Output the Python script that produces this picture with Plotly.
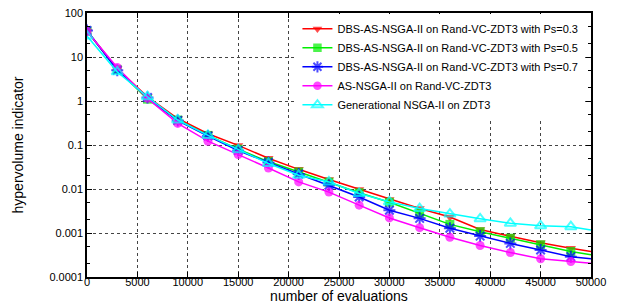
import plotly.graph_objects as go

evals = [0, 3000, 6000, 9000, 12000, 15000, 18000, 21000, 24000, 27000,
         30000, 33000, 36000, 39000, 42000, 45000, 48000, 50000]

hv_ps03 = [39, 5.4, 1.25, 0.40, 0.18, 0.098, 0.050, 0.028, 0.0164, 0.0098,
           0.0058, 0.0036, 0.0023, 0.0012, 0.00084, 0.0006, 0.00045, 0.00038]
hv_ps05 = [39, 5.2, 1.1, 0.37, 0.165, 0.08, 0.042, 0.0244, 0.0143, 0.0082,
           0.005, 0.0028, 0.00157, 0.00107, 0.00076, 0.00054, 0.00038, 0.00032]
hv_ps07 = [40, 5.0, 1.2, 0.36, 0.16, 0.075, 0.040, 0.022, 0.0122, 0.0066,
           0.0033, 0.00215, 0.00128, 0.00085, 0.00058, 0.00041, 0.00029, 0.00026]
hv_as = [38, 5.8, 1.15, 0.31, 0.122, 0.061, 0.030, 0.0145, 0.0085, 0.0043,
         0.0022, 0.00132, 0.0008, 0.00052, 0.00036, 0.00026, 0.000224, 0.000206]
hv_gen = [30, 4.6, 1.25, 0.37, 0.165, 0.078, 0.038, 0.0205, 0.0145, 0.0079,
          0.0051, 0.0036, 0.0027, 0.0021, 0.00166, 0.00146, 0.00139, 0.00117]

names = [
    "DBS-AS-NSGA-II on Rand-VC-ZDT3 with Ps=0.3",
    "DBS-AS-NSGA-II on Rand-VC-ZDT3 with Ps=0.5",
    "DBS-AS-NSGA-II on Rand-VC-ZDT3 with Ps=0.7",
    "AS-NSGA-II on Rand-VC-ZDT3",
    "Generational NSGA-II on ZDT3",
]
series = [hv_ps03, hv_ps05, hv_ps07, hv_as, hv_gen]
colors = ["#ff0000", "#00ee00", "#0000ff", "#ff00ff", "#00ffff"]
symbols = ["triangle-down", "square", "asterisk-open", "circle", "triangle-up-open"]
sizes = [9, 9, 10, 9, 10]

y_tickvals = [100, 10, 1, 0.1, 0.01, 0.001, 0.0001]
y_ticktext = ["100", "10", "1", "0.1", "0.01", "0.001", "0.0001"]
x_tickvals = [0, 5000, 10000, 15000, 20000, 25000, 30000, 35000, 40000, 45000, 50000]
x_ticktext = [str(v) for v in x_tickvals]

fig = go.Figure()
for name, ys, c, sym, sz in zip(names, series, colors, symbols, sizes):
    msizes = [sz] * (len(evals) - 1) + [0]
    fig.add_trace(go.Scatter(
        x=evals, y=ys, name=name, mode="lines+markers",
        line=dict(color=c, width=1.5),
        marker=dict(color=c, symbol=sym, size=msizes,
                    line=dict(color=c, width=2 if "open" in sym else 0)),
    ))

font = "Liberation Sans, Arial, sans-serif"
fig.update_layout(
    width=609, height=296,
    margin=dict(l=79, r=26, t=5, b=27),
    paper_bgcolor="white", plot_bgcolor="white",
    font=dict(family=font, size=11, color="black"),
    showlegend=True,
    legend=dict(x=0.985, y=0.995, xanchor="right", yanchor="top",
                bgcolor="white", font=dict(size=11, family=font),
                tracegroupgap=0, itemwidth=30),
    xaxis=dict(
        range=[0, 50000], tickvals=x_tickvals, ticktext=x_ticktext,
        automargin=False, ticklabeloverflow="allow", ticklabelstandoff=-6,
        showline=True, linecolor="black", linewidth=1.5, mirror="ticks",
        ticks="inside", ticklen=5, tickcolor="black",
        showgrid=True, gridcolor="#444", griddash="dot", gridwidth=1,
        zeroline=False,
        title=dict(text="number of evaluations", font=dict(size=14), standoff=4),
        tickfont=dict(size=11),
    ),
    yaxis=dict(
        type="log", range=[-4, 2], tickvals=y_tickvals, ticktext=y_ticktext,
        automargin=False, ticklabeloverflow="allow",
        showline=True, linecolor="black", linewidth=1.5, mirror="ticks",
        ticks="inside", ticklen=5, tickcolor="black",
        showgrid=True, gridcolor="#444", griddash="dot", gridwidth=1,
        zeroline=False,
        minor=dict(ticks="inside", ticklen=3, tickcolor="black", showgrid=False),
        title=dict(text="hypervolume indicator", font=dict(size=14), standoff=22),
        tickfont=dict(size=11),
    ),
)

fig.write_html("out.html")
